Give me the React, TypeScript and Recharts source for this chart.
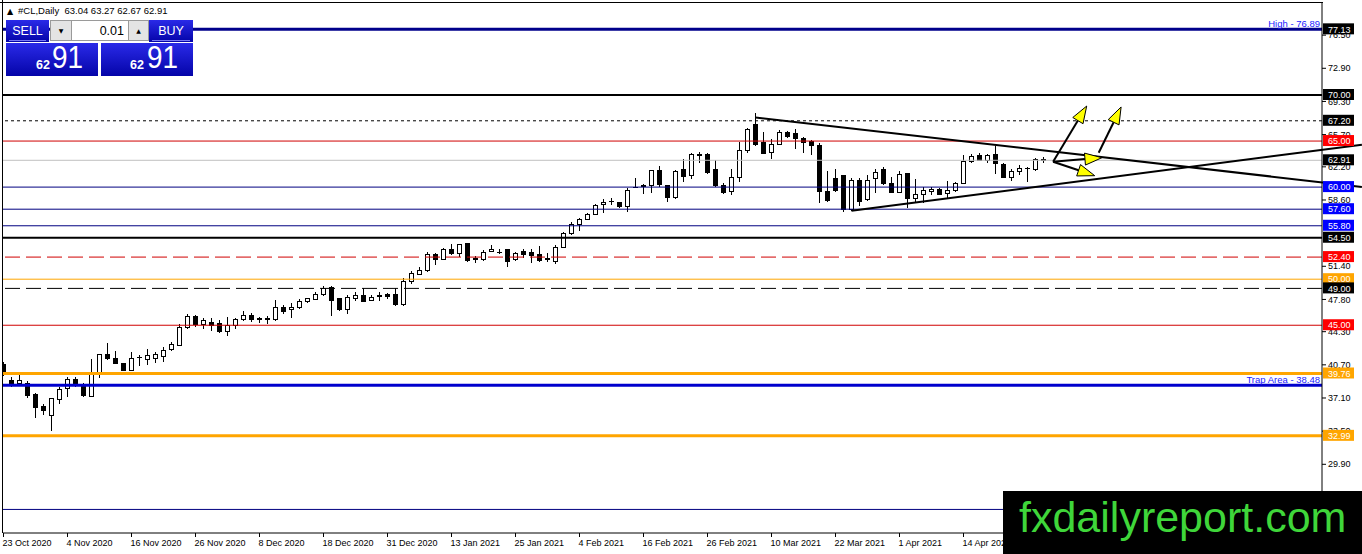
import React from "react";
import { Bar, ComposedChart, ReferenceLine, XAxis, YAxis } from "recharts";

const FONT = "'Liberation Sans', Arial, sans-serif";

// daily candles, 23 Oct 2020 .. 28 Apr 2021
const opens = [
  40.7, 38.95, 38.66, 38.7, 37.5, 36.16, 35.18, 36.96, 38.16, 39.16, 38.44, 37.24, 39.71, 41.77, 41.41, 40.87,
  40.07, 41.45, 41.23, 41.41, 41.6, 42.32, 42.78, 44.78, 45.93, 45.03, 45.32, 45.14, 44.3, 44.92, 45.65, 46.1,
  45.6, 45.65, 45.65, 46.95, 46.73, 46.95, 47.56, 47.81, 48.39, 49.12, 47.85, 46.73, 47.92, 48.28, 47.74, 48.1,
  48.39, 48.39, 47.3, 49.73, 50.53, 50.93, 52.63, 52.19, 53.25, 52.74, 53.83, 52.1, 52.09, 52.99, 52.9, 53.17,
  52.16, 52.99, 52.88, 52.63, 52.15, 51.9, 53.46, 54.98, 55.96, 56.5, 57.05, 58.1, 58.4, 58.35, 57.87, 59.95,
  60.15, 60.12, 61.75, 60.12, 58.85, 61.93, 61.21, 63.5, 63.49, 61.93, 60.15, 59.5, 61.06, 63.95, 66.75, 64.82,
  63.78, 64.65, 65.95, 65.84, 65.3, 64.93, 64.57, 59.5, 60.95, 61.21, 57.52, 60.77, 58.68, 60.95, 61.93, 60.41,
  59.43, 61.5, 58.78, 59.25, 59.5, 59.76, 59.32, 59.61, 60.34, 62.76, 63.38, 62.94, 63.49, 62.47, 61.06, 61.68,
  62.0, 61.93, 63.04,
];
const highs = [
  41.0, 39.35, 39.71, 38.9, 37.65, 36.5, 37.1, 38.27, 39.35, 39.4, 38.7, 41.3, 41.9, 43.12, 42.2, 40.95,
  42.06, 41.77, 42.39, 42.1, 42.67, 43.2, 45.14, 46.22, 46.1, 45.8, 45.8, 45.6, 45.86, 45.75, 46.58, 46.35,
  45.9, 46.0, 47.74, 47.2, 47.45, 47.8, 48.0, 48.6, 49.25, 49.3, 48.0, 48.28, 48.6, 49.0, 48.28, 48.6,
  48.5, 49.0, 50.1, 50.9, 51.3, 52.9, 52.88, 53.4, 53.8, 53.8, 53.9, 52.5, 53.2, 53.75, 53.25, 53.25,
  52.9, 53.25, 53.25, 53.6, 52.8, 53.7, 55.15, 56.25, 56.6, 57.2, 58.2, 58.68, 58.8, 58.42, 59.87, 60.95,
  60.3, 61.87, 62.29, 60.2, 61.87, 63.02, 63.7, 63.85, 63.7, 62.94, 60.4, 61.93, 64.93, 66.38, 68.0, 65.95,
  65.19, 66.2, 66.1, 66.3, 65.4, 65.1, 64.75, 61.78, 61.93, 61.35, 60.95, 60.95, 61.32, 61.93, 62.2, 61.13,
  61.75, 61.57, 60.84, 60.05, 60.0, 59.9, 60.7, 60.6, 63.49, 63.6, 63.7, 63.6, 64.47, 62.6, 61.93, 62.4,
  62.15, 63.2, 63.27,
];
const lows = [
  39.5, 38.27, 38.6, 37.13, 34.9, 35.2, 33.55, 36.5, 37.2, 38.3, 37.18, 37.2, 39.3, 41.2, 40.8, 39.98,
  40.0, 40.6, 40.7, 40.9, 41.05, 42.2, 42.7, 44.56, 44.85, 44.56, 44.42, 44.2, 43.87, 44.6, 45.5, 45.3,
  45.2, 45.1, 45.5, 46.2, 45.76, 46.75, 47.4, 47.7, 48.2, 46.04, 46.55, 46.19, 47.6, 47.5, 47.6, 47.6,
  47.8, 47.1, 47.1, 49.5, 50.45, 50.8, 51.5, 52.1, 52.6, 52.4, 51.9, 51.8, 51.95, 52.9, 52.7, 51.35,
  51.95, 52.3, 51.8, 51.9, 51.9, 51.6, 53.35, 54.8, 55.27, 56.4, 56.95, 57.23, 58.1, 57.75, 57.33, 59.85,
  59.25, 59.4, 59.97, 58.4, 58.7, 60.59, 60.88, 62.58, 61.4, 59.97, 59.3, 59.15, 60.5, 63.73, 64.5, 63.56,
  63.05, 64.6, 65.3, 64.1, 63.73, 63.49, 58.24, 58.42, 59.43, 57.3, 57.4, 57.95, 58.52, 59.4, 60.2, 59.32,
  59.32, 57.7, 58.42, 58.24, 59.1, 59.15, 58.78, 59.5, 60.3, 62.6, 62.8, 62.6, 61.42, 60.95, 60.7, 61.3,
  60.59, 61.8, 62.67,
];
const closes = [
  39.71, 38.6, 38.95, 37.35, 36.1, 35.7, 37.07, 38.05, 39.13, 38.62, 37.35, 39.71, 41.77, 41.34, 40.87, 40.07,
  41.41, 41.5, 41.66, 41.77, 42.21, 42.93, 44.78, 45.93, 45.03, 45.5, 44.95, 44.3, 44.92, 45.65, 46.1, 45.65,
  45.7, 45.7, 46.95, 46.47, 46.95, 47.63, 47.85, 48.39, 49.0, 47.67, 46.66, 48.03, 48.28, 47.63, 48.03, 48.2,
  48.1, 47.27, 49.8, 50.57, 50.93, 52.71, 52.19, 53.25, 52.74, 53.72, 52.02, 52.2, 52.92, 53.25, 52.95, 51.9,
  52.81, 52.63, 52.55, 52.02, 52.2, 53.46, 54.98, 55.96, 56.43, 57.05, 58.03, 58.35, 58.45, 57.87, 59.68, 60.0,
  60.05, 61.75, 60.23, 58.85, 61.68, 61.13, 63.49, 63.45, 61.57, 60.15, 59.4, 61.06, 63.95, 66.28, 64.65, 63.67,
  64.65, 65.95, 65.47, 65.3, 64.82, 64.47, 59.5, 58.52, 59.61, 57.52, 60.7, 58.42, 60.7, 61.57, 60.34, 59.43,
  61.32, 58.78, 59.25, 59.61, 59.76, 59.25, 59.68, 60.34, 62.76, 63.3, 62.94, 63.45, 62.58, 61.06, 61.68, 62.04,
  62.05, 63.02, 62.91,
];

const tickIdx = [0, 8, 16, 24, 32, 40, 48, 56, 64, 72, 80, 88, 96, 104, 112, 120];
const tickDates = [
  "23 Oct 2020", "4 Nov 2020", "16 Nov 2020", "26 Nov 2020", "8 Dec 2020", "18 Dec 2020", "31 Dec 2020",
  "13 Jan 2021", "25 Jan 2021", "4 Feb 2021", "16 Feb 2021", "26 Feb 2021", "10 Mar 2021", "22 Mar 2021",
  "1 Apr 2021", "14 Apr 2021",
];
const priceTicks = [76.5, 72.9, 69.3, 65.7, 62.2, 58.6, 51.4, 47.8, 44.3, 40.7, 37.1, 33.5, 29.9];

// horizontal levels drawn on the chart
const levels = [77.13, 70.0, 67.2, 65.0, 62.91, 60.0, 57.6, 55.8, 54.5, 52.4, 50.0, 49.0, 45.0, 39.76, 38.48, 32.99, 25.0];
const levelNotes = ["High - 76.89", "", "", "", "", "", "", "", "", "", "", "", "", "", "Trap Area - 38.48", "", ""];

// trend lines and arrows, as [bar index, price]
const trendDown = [[94, 67.55], [169.8, 60.02]];
const trendUp = [[106, 57.44], [169.8, 64.6]];
const arrows = [
  [[131.2, 62.76], [135.4, 68.8]],
  [[131.2, 62.76], [137.3, 63.19]],
  [[131.2, 62.76], [136.4, 61.24]],
  [[136.9, 63.73], [139.7, 68.7]],
];

const levelLook: { stroke: string; w: number; dash?: string; box?: string }[] = [
  { stroke: "#00008b", w: 3, box: "#000" },
  { stroke: "#000", w: 2, box: "#000" },
  { stroke: "#000", w: 1, dash: "3 3", box: "#000" },
  { stroke: "#d00000", w: 1, box: "#ff0000" },
  { stroke: "#c0c0c0", w: 1, box: "#000" },
  { stroke: "#000080", w: 1, box: "#0000ff" },
  { stroke: "#000080", w: 1, box: "#0000ff" },
  { stroke: "#000080", w: 1, box: "#0000ff" },
  { stroke: "#000", w: 2, box: "#000" },
  { stroke: "#d00000", w: 1, dash: "15 6", box: "#ff0000" },
  { stroke: "#ffa500", w: 1, box: "#ffa500" },
  { stroke: "#000", w: 1, dash: "15 6", box: "#000" },
  { stroke: "#d00000", w: 1, box: "#ff0000" },
  { stroke: "#ffa500", w: 3, box: "#ffa500" },
  { stroke: "#0000cd", w: 3 },
  { stroke: "#ffa500", w: 3, box: "#ffa500" },
  { stroke: "#000080", w: 1 },
];

const candles = opens.map((o, i) => ({
  i,
  o,
  h: highs[i],
  l: lows[i],
  c: closes[i],
  range: [lows[i], highs[i]],
}));

const boxLevels = levels.filter((_, k) => levelLook[k].box);

const Candle = (p: any) => {
  const d = p.payload;
  if (!d) return null;
  const top = Math.min(p.y, p.y + p.height);
  const h = Math.abs(p.height);
  const k = h / (d.h - d.l || 1);
  const cx = p.x + p.width / 2;
  const yO = top + (d.h - d.o) * k;
  const yC = top + (d.h - d.c) * k;
  const bTop = Math.min(yO, yC);
  const bH = Math.max(Math.abs(yO - yC), 0.5);
  const up = d.c >= d.o;
  return (
    <g shapeRendering="crispEdges">
      <line x1={cx} x2={cx} y1={top} y2={top + h} stroke="#000" />
      <rect x={cx - 2} y={bTop} width={4} height={bH} fill={up ? "#fff" : "#000"} stroke="#000" />
    </g>
  );
};

const DateTick = (p: any) => {
  const n = tickIdx.indexOf(p.payload.value);
  return (
    <text x={p.x - 1} y={p.y + 8.5} fontSize={9} fontFamily={FONT} fill="#000" textAnchor="start">
      {tickDates[n]}
    </text>
  );
};

const PriceTick = (p: any) => {
  const v = p.payload.value;
  const k = levels.indexOf(v);
  const y = p.y;
  if (k >= 0) {
    return (
      <g>
        <rect x={p.x - 5} y={y - 6} width={31} height={11} fill={levelLook[k].box} />
        <text x={p.x} y={y + 3.2} fontSize={9} fontFamily={FONT} fill="#fff">
          {v.toFixed(2)}
        </text>
      </g>
    );
  }
  return (
    <g>
      <line x1={p.x - 6} x2={p.x - 2} y1={y} y2={y} stroke="#000" />
      <text x={p.x} y={y + 3.2} fontSize={9} fontFamily={FONT} fill="#000">
        {v.toFixed(2)}
      </text>
    </g>
  );
};

const levelShape = (k: number) => (p: any) => {
  const look = levelLook[k];
  const right = Math.max(p.x1, p.x2);
  return (
    <g>
      <line x1={p.x1} y1={p.y1} x2={p.x2} y2={p.y2} stroke={look.stroke} strokeWidth={look.w} strokeDasharray={look.dash} />
      {levelNotes[k] ? (
        <text x={right - 2} y={p.y1 - 2} textAnchor="end" fontSize={9.5} fontFamily={FONT} fill="#1a1aff">
          {levelNotes[k]}
        </text>
      ) : null}
    </g>
  );
};

const trendShape = (p: any) => <line x1={p.x1} y1={p.y1} x2={p.x2} y2={p.y2} stroke="#000" strokeWidth={2} />;

const arrowShape = (p: any) => {
  const dx = p.x2 - p.x1;
  const dy = p.y2 - p.y1;
  const len = Math.hypot(dx, dy) || 1;
  const ux = dx / len;
  const uy = dy / len;
  const L = 17;
  const W = 6;
  const bx = p.x2 - ux * L;
  const by = p.y2 - uy * L;
  const pts = `${p.x2},${p.y2} ${bx - uy * W},${by + ux * W} ${bx + uy * W},${by - ux * W}`;
  return (
    <g>
      <line x1={p.x1} y1={p.y1} x2={bx} y2={by} stroke="#000" strokeWidth={2} />
      <polygon points={pts} fill="#ffff00" stroke="#000" strokeWidth={1} strokeLinejoin="round" />
    </g>
  );
};

const seg = (s: number[][]) => s.map(([x, y]) => ({ x, y }));

function Overlay() {
  const blue = "url(#panelBlue)";
  return (
    <svg width={1362} height={554} style={{ position: "absolute", left: 0, top: 0, pointerEvents: "none" }}>
      <defs>
        <linearGradient id="panelBlue" x1="0" y1="0" x2="0" y2="1">
          <stop offset="0" stopColor="#2a2ae8" />
          <stop offset="1" stopColor="#0404a8" />
        </linearGradient>
      </defs>
      <line x1={0} y1={2.5} x2={1323} y2={2.5} stroke="#000" />
      <line x1={2.5} y1={0} x2={2.5} y2={533} stroke="#000" />
      <text x={7} y={14} fontSize={8} fontFamily="'DejaVu Sans', sans-serif" fill="#000">▲</text>
      <text x={18} y={14} fontSize={9.5} fontFamily={FONT} fill="#000" xmlSpace="preserve">
        {"#CL,Daily  63.04 63.27 62.67 62.91"}
      </text>

      <rect x={6} y={20} width={43} height={22} fill={blue} />
      <line x1={9} y1={40.5} x2={46} y2={40.5} stroke="#7a7af5" />
      <text x={27.5} y={35} textAnchor="middle" fontSize={12.5} fontFamily={FONT} fill="#fff">SELL</text>
      <rect x={50.5} y={20.5} width={21} height={20} fill="#e4e4e4" stroke="#9a9a9a" />
      <text x={61} y={33} textAnchor="middle" fontSize={6} fontFamily="'DejaVu Sans', sans-serif" fill="#000">▼</text>
      <rect x={71.5} y={20.5} width={57} height={20} fill="#fff" stroke="#9a9a9a" />
      <text x={124} y={35} textAnchor="end" fontSize={12.5} fontFamily={FONT} fill="#000">0.01</text>
      <rect x={128.5} y={20.5} width={20} height={20} fill="#e4e4e4" stroke="#9a9a9a" />
      <text x={138.5} y={33} textAnchor="middle" fontSize={6} fontFamily="'DejaVu Sans', sans-serif" fill="#000">▲</text>
      <rect x={149} y={20} width={44} height={22} fill={blue} />
      <line x1={152} y1={40.5} x2={190} y2={40.5} stroke="#7a7af5" />
      <text x={171} y={35} textAnchor="middle" fontSize={12.5} fontFamily={FONT} fill="#fff">BUY</text>

      <rect x={6} y={43} width={92} height={33} fill={blue} />
      <rect x={101} y={43} width={92} height={33} fill={blue} />
      <text x={36} y={68.5} fontSize={12.5} fontWeight="bold" fontFamily={FONT} fill="#fff">62</text>
      <text x={52} y={68.5} fontSize={31} fontFamily={FONT} fill="#fff" transform="translate(52 0) scale(0.9 1) translate(-52 0)">91</text>
      <text x={130} y={68.5} fontSize={12.5} fontWeight="bold" fontFamily={FONT} fill="#fff">62</text>
      <text x={147} y={68.5} fontSize={31} fontFamily={FONT} fill="#fff" transform="translate(147 0) scale(0.9 1) translate(-147 0)">91</text>

      <rect x={1003} y={491} width={359} height={63} fill="#000" />
      <text x={1019} y={532} fontSize={43} fontFamily={FONT} fill="#3fd63a">fxdailyreport.com</text>
    </svg>
  );
}

export default function App() {
  return (
    <div style={{ position: "absolute", left: 0, top: 0, width: 1362, height: 554, background: "#fff", overflow: "hidden" }}>
      <ComposedChart width={1362} height={554} data={candles} margin={{ top: 3, right: 0, left: 3, bottom: 0 }}>
        <XAxis
          dataKey="i"
          type="number"
          domain={[-0.0625, 164.8125]}
          allowDataOverflow
          ticks={tickIdx}
          interval={0}
          height={21}
          tickSize={4}
          tickMargin={0}
          tickLine={{ stroke: "#000" }}
          axisLine={{ stroke: "#000" }}
          tick={<DateTick />}
        />
        <YAxis
          orientation="right"
          type="number"
          domain={[22.44, 79.99]}
          allowDataOverflow
          ticks={[...priceTicks, ...boxLevels]}
          interval={0}
          width={40}
          tickSize={4}
          tickMargin={2}
          tickLine={false}
          axisLine={{ stroke: "#000" }}
          tick={<PriceTick />}
        />
        {levels.map((v, k) => (
          <ReferenceLine key={v} y={v} shape={levelShape(k)} />
        ))}
        <Bar dataKey="range" barSize={5} shape={<Candle />} isAnimationActive={false} />
        <ReferenceLine segment={seg(trendDown)} ifOverflow="visible" shape={trendShape} />
        <ReferenceLine segment={seg(trendUp)} ifOverflow="visible" shape={trendShape} />
        {arrows.map((a, n) => (
          <ReferenceLine key={n} segment={seg(a)} ifOverflow="visible" shape={arrowShape} />
        ))}
      </ComposedChart>
      <Overlay />
    </div>
  );
}
